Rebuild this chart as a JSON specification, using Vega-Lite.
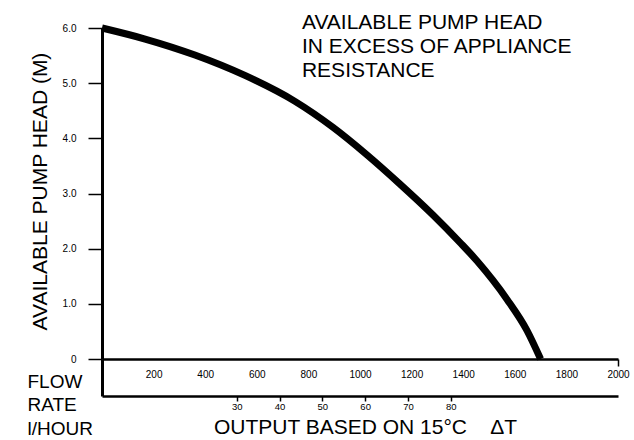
{
  "$schema": "https://vega.github.io/schema/vega-lite/v6.json",
  "width": 516,
  "height": 331,
  "autosize": {"type": "none"},
  "padding": {"left": 102, "top": 28, "right": 16, "bottom": 81},
  "background": "white",
  "config": {
    "view": {"stroke": null},
    "font": "Liberation Sans",
    "axis": {
      "grid": false,
      "domainColor": "black",
      "tickColor": "black",
      "labelColor": "black",
      "titleColor": "black",
      "labelFont": "Liberation Sans",
      "titleFont": "Liberation Sans",
      "titleFontWeight": "normal"
    }
  },
  "datasets": {
    "curve": [
      {"flow": 0, "head": 6.0},
      {"flow": 167, "head": 5.80},
      {"flow": 360, "head": 5.51},
      {"flow": 554, "head": 5.14},
      {"flow": 748, "head": 4.67},
      {"flow": 895, "head": 4.20},
      {"flow": 1027, "head": 3.70},
      {"flow": 1155, "head": 3.17},
      {"flow": 1283, "head": 2.61},
      {"flow": 1388, "head": 2.11},
      {"flow": 1453, "head": 1.78},
      {"flow": 1570, "head": 1.08},
      {"flow": 1647, "head": 0.52},
      {"flow": 1700, "head": 0.0}
    ],
    "output": [
      {"kbtu": 30}, {"kbtu": 40}, {"kbtu": 50}, {"kbtu": 60}, {"kbtu": 70}, {"kbtu": 80}
    ]
  },
  "layer": [
    {
      "layer": [
        {
          "data": {"name": "curve"},
          "mark": {"type": "line", "color": "black", "strokeWidth": 7, "interpolate": "monotone", "clip": false},
          "encoding": {
            "x": {
              "field": "flow",
              "type": "quantitative",
              "scale": {"domain": [0, 2000], "nice": false},
              "axis": {
                "values": [0, 100, 200, 300, 400, 500, 600, 700, 800, 900, 1000, 1100, 1200, 1300, 1400, 1500, 1600, 1700, 1800, 1900, 2000],
                "labelExpr": "datum.value % 200 == 0 && datum.value > 0 ? datum.value : ''",
                "tickSize": {"condition": {"test": "datum.value == 0", "value": 37}, "value": 7},
                "tickOpacity": {"condition": {"test": "datum.value % 200 == 0 && datum.value > 0 && datum.value < 2000", "value": 0}, "value": 1},
                "tickWidth": {"condition": {"test": "datum.value == 0", "value": 3}, "value": 1.5},
                "domainWidth": 2.5,
                "labelFontSize": 10,
                "labelPadding": 3,
                "labelFlush": false,
                "labelOverlap": false,
                "title": ["FLOW", "RATE", "l/HOUR"],
                "titleFontSize": 19,
                "titleLineHeight": 23.5,
                "titleX": -75,
                "titleY": 28,
                "titleAlign": "left",
                "titleBaseline": "alphabetic"
              }
            },
            "y": {
              "field": "head",
              "type": "quantitative",
              "scale": {"domain": [0, 6], "nice": false},
              "axis": {
                "values": [0, 1, 2, 3, 4, 5, 6],
                "labelExpr": "datum.value == 0 ? '0' : format(datum.value, '.1f')",
                "tickSize": 14,
                "tickWidth": 1.5,
                "domainWidth": 3,
                "labelFontSize": 10,
                "labelPadding": 12,
                "title": "AVAILABLE PUMP HEAD (M)",
                "titleFontSize": 21,
                "titleX": -56,
                "titleY": 163,
                "titleAlign": "center",
                "titleBaseline": "alphabetic"
              }
            }
          }
        },
        {
          "data": {"values": [{}]},
          "mark": {
            "type": "text",
            "align": "left",
            "baseline": "alphabetic",
            "fontSize": 21,
            "lineHeight": 24,
            "color": "black",
            "text": ["AVAILABLE PUMP HEAD", "IN EXCESS OF APPLIANCE", "RESISTANCE"]
          },
          "encoding": {
            "x": {"datum": 775, "type": "quantitative"},
            "y": {"datum": 5.98, "type": "quantitative"}
          }
        }
      ]
    },
    {
      "data": {"name": "output"},
      "mark": {"type": "point", "opacity": 0},
      "encoding": {
        "x": {
          "field": "kbtu",
          "type": "quantitative",
          "scale": {"domain": [-1.5, 119.1], "nice": false, "zero": false},
          "axis": {
            "orient": "bottom",
            "offset": 37,
            "values": [30, 40, 50, 60, 70, 80],
            "tickSize": 5,
            "tickWidth": 1.5,
            "domainWidth": 2.5,
            "labelFontSize": 9.5,
            "labelPadding": 0,
            "title": "OUTPUT BASED ON 15°C\u00a0\u00a0\u00a0\u00a0ΔT",
            "titleFontSize": 21,
            "titleX": 263,
            "titleY": 37,
            "titleBaseline": "alphabetic"
          }
        }
      }
    }
  ],
  "resolve": {"scale": {"x": "independent"}, "axis": {"x": "independent"}}
}
